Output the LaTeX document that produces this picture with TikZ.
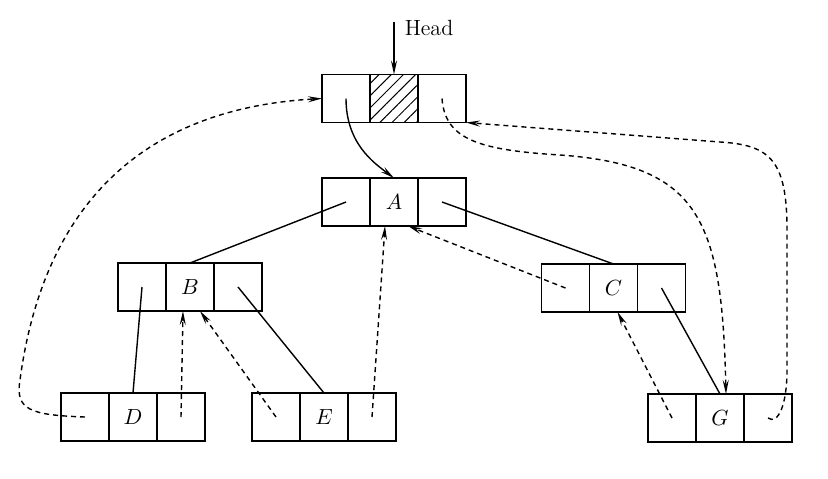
\documentclass[tikz,border=0pt]{standalone}
\usepackage{amsmath}
\usepackage{tikz}
\usetikzlibrary{positioning,arrows.meta,patterns.meta}

\begin{document}
\begin{tikzpicture}[x=0.5pt,y=-0.5pt,
  cell/.style={draw,line width=0.9pt,minimum width=24pt,minimum height=24pt,inner sep=0pt,outer sep=0pt,font=\fontsize{11}{13}\selectfont},
  branch/.style={line width=0.7pt},
  thread/.style={->,line width=0.7pt,dash pattern=on 2.5pt off 2pt},
  >={Stealth[length=7pt,width=3pt,inset=2.5pt]}]
\useasboundingbox (0,0) rectangle (828,478);
% head node
\node[cell,pattern={Lines[angle=45,distance=4.3pt,line width=0.5pt]}] (Hd) at (394,98.5) {};
\node[cell,left=0pt of Hd] (Hl) {};
\node[cell,right=0pt of Hd] (Hr) {};
\coordinate (top) at (394,22);
\node[font=\fontsize{11}{13}\selectfont] (head) at (429,28) {Head};
% tree nodes
\node[cell] (Ad) at (394,202) {$A$};
\node[cell,left=0pt of Ad] (Al) {};
\node[cell,right=0pt of Ad] (Ar) {};
\node[cell] (Bd) at (190,287) {$B$};
\node[cell,left=0pt of Bd] (Bl) {};
\node[cell,right=0pt of Bd] (Br) {};
\node[cell] (Cd) at (613.5,288) {$C$};
\node[cell,left=0pt of Cd] (Cl) {};
\node[cell,right=0pt of Cd] (Cr) {};
\node[cell] (Dd) at (133,417) {$D$};
\node[cell,left=0pt of Dd] (Dl) {};
\node[cell,right=0pt of Dd] (Dr) {};
\node[cell] (Ed) at (324,417) {$E$};
\node[cell,left=0pt of Ed] (El) {};
\node[cell,right=0pt of Ed] (Er) {};
\node[cell] (Gd) at (720,418) {$G$};
\node[cell,left=0pt of Gd] (Gl) {};
\node[cell,right=0pt of Gd] (Gr) {};
% child links
\draw[->,branch] (top) -- (Hd.north);
\draw[->,branch] (Hl.center) .. controls +(0,45) and +(-20,-15) .. (Ad.north);
\draw[branch] (Al.center) -- (Bd.north);
\draw[branch] (Ar.center) -- (Cd.north);
\draw[branch] (Bl.center) -- (Dd.north);
\draw[branch] (Br.center) -- (Ed.north);
\draw[branch] (Cr.center) -- (Gd.north);
% threads
\draw[thread] (Dl.center) .. controls (30,415) and (15,410) .. (20,380)
  .. controls (40,230) and (120,110) .. (Hl.west);
\draw[thread] (Dr.center) -- ([xshift=-3.5pt]Bd.south);
\draw[thread] (El.center) -- ([xshift=5pt]Bd.south);
\draw[thread] (Er.center) -- ([xshift=-4.5pt]Ad.south);
\draw[thread] (Cl.center) -- ([xshift=7pt]Ad.south);
\draw[thread] (Gl.center) -- ([xshift=2pt]Cd.south);
\draw[thread] (Hr.center) .. controls (445,140) and (480,150) .. (560,155)
  .. controls (700,165) and (722,220) .. ([xshift=3pt]Gd.north);
\draw[thread] (Gr.center) .. controls (778,425) and (787,405) .. (787,370)
  -- (787,230) .. controls (787,160) and (770,145) .. (720,142) -- (Hr.south east);
\end{tikzpicture}
\end{document}
